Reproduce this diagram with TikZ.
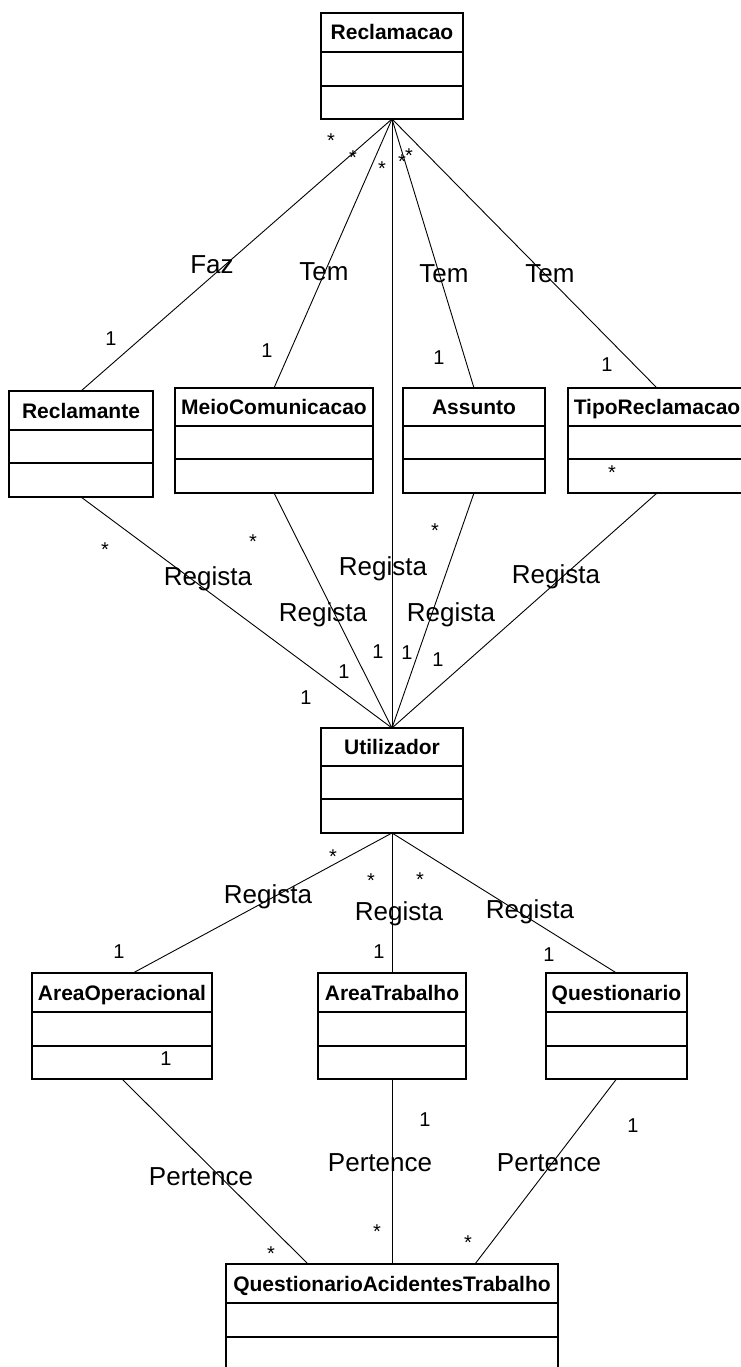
\documentclass[tikz,border=0pt]{standalone}
\usepackage{fontspec}
\setmainfont{Liberation Sans}
\usetikzlibrary{calc}

\tikzset{
  classbox/.style={draw, line width=1.4pt, rectangle, inner sep=0pt, outer sep=0pt, anchor=north west},
  classtitle/.style={font=\fontsize{21}{25}\selectfont\bfseries, inner sep=0pt, text height=15pt, text depth=0pt},
  compline/.style={line width=1.4pt},
  assoc/.style={line width=0.9pt},
  rolename/.style={font=\fontsize{26}{30}\selectfont, inner sep=0pt},
  mult/.style={font=\fontsize{20}{24}\selectfont, inner sep=0pt},
  mstar/.style={mult, yshift=-4.3pt},
}

% UML class with three compartments:
% #1 name, #2 left, #3 top, #4 right, #5 header bottom, #6 middle line, #7 bottom, #8 title
\newcommand{\umlclass}[8]{%
  \node[classbox, minimum width={(#4-#2)*1pt}, minimum height={(#7-#3)*1pt}] (#1) at (#2,#3) {};
  \node[classtitle] (#1-title) at ({(#2+#4)/2},{(#3+#5)/2}) {#8};
  \draw[compline] (#2,#5) -- (#4,#5);
  \draw[compline] (#2,#6) -- (#4,#6);
}

\begin{document}
\begin{tikzpicture}[x=1pt, y=-1pt]
  \useasboundingbox (0,0) rectangle (741,1367);
  \fill[white] (0,0) rectangle (741,1367);

  % classes
  \umlclass{rcl}{321}{13}{463}{52}{86}{119}{Reclamacao}
  \umlclass{rmt}{9}{391}{153}{430}{463}{497}{Reclamante}
  \umlclass{mco}{175}{388}{373}{426}{459}{493}{MeioComunicacao}
  \umlclass{ass}{403}{388}{545}{426}{459}{493}{Assunto}
  \umlclass{tip}{568}{388}{746}{426}{459}{493}{TipoReclamacao}
  \umlclass{utl}{321}{728}{463}{766}{799}{833}{Utilizador}
  \umlclass{aop}{32}{973}{212}{1012}{1046}{1079}{AreaOperacional}
  \umlclass{atr}{318}{973}{466}{1012}{1046}{1079}{AreaTrabalho}
  \umlclass{qst}{546}{973}{687}{1012}{1046}{1079}{Questionario}
  \umlclass{qat}{226}{1264}{558}{1303}{1337}{1371}{QuestionarioAcidentesTrabalho}

  % associations of Reclamacao
  \draw[assoc] (rcl.south) -- (rmt.north);
  \draw[assoc] (rcl.south) -- (mco.north);
  \draw[assoc] (rcl.south) -- (utl.north);
  \draw[assoc] (rcl.south) -- (ass.north);
  \draw[assoc] (rcl.south) -- (tip.north);

  % associations registered by Utilizador (upper)
  \draw[assoc] (rmt.south) -- (utl.north);
  \draw[assoc] (mco.south) -- (utl.north);
  \draw[assoc] (ass.south) -- (utl.north);
  \draw[assoc] (tip.south) -- (utl.north);

  % associations registered by Utilizador (lower)
  \draw[assoc] (utl.south) -- ($(aop.north)+(11,0)$);
  \draw[assoc] (utl.south) -- (atr.north);
  \draw[assoc] (utl.south) -- (qst.north);

  % Pertence associations
  \draw[assoc] (aop.south) -- ($(qat.north)+(-84,0)$);
  \draw[assoc] (atr.south) -- (qat.north);
  \draw[assoc] (qst.south) -- ($(qat.north)+(83,0)$);

  % role names
  \node[rolename] (lfaz) at (212,265) {Faz};
  \node[rolename] (ltem1) at (324,272) {Tem};
  \node[rolename] (ltem2) at (444,274) {Tem};
  \node[rolename] (ltem3) at (550,274) {Tem};

  \node[rolename] (lreg1) at (208,579) {Regista};
  \node[rolename] (lreg2) at (383,569) {Regista};
  \node[rolename] (lreg3) at (556,577) {Regista};
  \node[rolename] (lreg4) at (323,615) {Regista};
  \node[rolename] (lreg5) at (451,615) {Regista};

  \node[rolename] (lreg6) at (268,897) {Regista};
  \node[rolename] (lreg7) at (399,914) {Regista};
  \node[rolename] (lreg8) at (530,912) {Regista};

  \node[rolename] (lper1) at (201,1177) {Pertence};
  \node[rolename] (lper2) at (380,1163) {Pertence};
  \node[rolename] (lper3) at (549,1163) {Pertence};

  % multiplicities near Reclamacao
  \node[mstar] (s1) at (331,136) {*};
  \node[mstar] (s2) at (353,153) {*};
  \node[mstar] (s3) at (382,164) {*};
  \node[mstar] (s4) at (402,157) {*};
  \node[mstar] (s5) at (409,151) {*};

  \node[mult] (o1) at (111,339) {1};
  \node[mult] (o2) at (267,351) {1};
  \node[mult] (o3) at (439,358) {1};
  \node[mult] (o4) at (607,365) {1};

  % multiplicities of the upper Regista associations
  \node[mstar] (s6) at (105,545) {*};
  \node[mstar] (s7) at (253,537) {*};
  \node[mstar] (s8) at (435,526) {*};
  \node[mstar] (s9) at (612,468) {*};

  \node[mult] (o5) at (306,698) {1};
  \node[mult] (o6) at (344,672) {1};
  \node[mult] (o7) at (378,652) {1};
  \node[mult] (o8) at (407,653) {1};
  \node[mult] (o9) at (438,660) {1};

  % multiplicities of the lower Regista associations
  \node[mstar] (s10) at (333,852) {*};
  \node[mstar] (s11) at (371,876) {*};
  \node[mstar] (s12) at (420,875) {*};

  \node[mult] (o10) at (119,952) {1};
  \node[mult] (o11) at (379,952) {1};
  \node[mult] (o12) at (549,955) {1};

  % multiplicities of the Pertence associations
  \node[mult] (o13) at (166,1059) {1};
  \node[mult] (o14) at (425,1120) {1};
  \node[mult] (o15) at (633,1126) {1};

  \node[mstar] (s13) at (271,1249) {*};
  \node[mstar] (s14) at (377,1227) {*};
  \node[mstar] (s15) at (468,1238) {*};
\end{tikzpicture}
\end{document}
